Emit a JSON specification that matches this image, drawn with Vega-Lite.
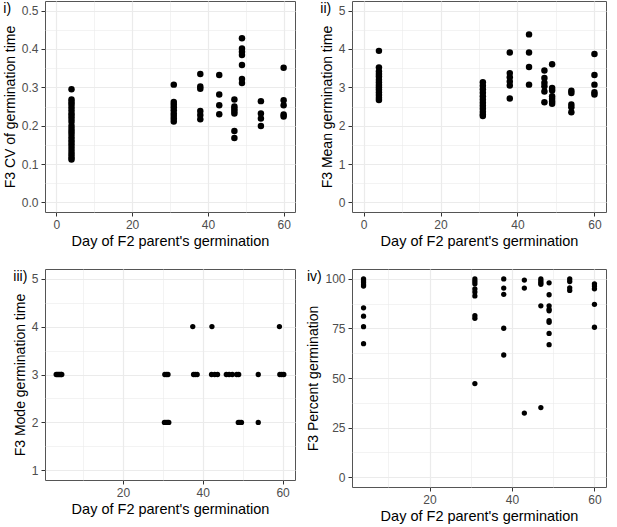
{
  "$schema": "https://vega.github.io/schema/vega-lite/v6.json",
  "padding": {"left": 2, "top": 0, "right": 2, "bottom": 2},
  "datasets": {
    "cv": [
      {"day": 4, "value": 0.295}, {"day": 4, "value": 0.268}, {"day": 4, "value": 0.262}, {"day": 4, "value": 0.256},
      {"day": 4, "value": 0.248}, {"day": 4, "value": 0.24}, {"day": 4, "value": 0.232}, {"day": 4, "value": 0.225},
      {"day": 4, "value": 0.218}, {"day": 4, "value": 0.21}, {"day": 4, "value": 0.2}, {"day": 4, "value": 0.192},
      {"day": 4, "value": 0.185}, {"day": 4, "value": 0.178}, {"day": 4, "value": 0.17}, {"day": 4, "value": 0.162},
      {"day": 4, "value": 0.155}, {"day": 4, "value": 0.148}, {"day": 4, "value": 0.14}, {"day": 4, "value": 0.132},
      {"day": 4, "value": 0.125}, {"day": 4, "value": 0.118}, {"day": 4, "value": 0.112},
      {"day": 31, "value": 0.307}, {"day": 31, "value": 0.262}, {"day": 31, "value": 0.255}, {"day": 31, "value": 0.248},
      {"day": 31, "value": 0.24}, {"day": 31, "value": 0.232}, {"day": 31, "value": 0.225}, {"day": 31, "value": 0.218},
      {"day": 31, "value": 0.211},
      {"day": 38, "value": 0.335}, {"day": 38, "value": 0.302}, {"day": 38, "value": 0.296}, {"day": 38, "value": 0.238},
      {"day": 38, "value": 0.228}, {"day": 38, "value": 0.217},
      {"day": 43, "value": 0.332}, {"day": 43, "value": 0.281}, {"day": 43, "value": 0.253}, {"day": 43, "value": 0.23},
      {"day": 47, "value": 0.268}, {"day": 47, "value": 0.25}, {"day": 47, "value": 0.244}, {"day": 47, "value": 0.238},
      {"day": 47, "value": 0.232}, {"day": 47, "value": 0.186}, {"day": 47, "value": 0.168},
      {"day": 49, "value": 0.428}, {"day": 49, "value": 0.401}, {"day": 49, "value": 0.393}, {"day": 49, "value": 0.384},
      {"day": 49, "value": 0.358}, {"day": 49, "value": 0.322}, {"day": 49, "value": 0.311},
      {"day": 54, "value": 0.264}, {"day": 54, "value": 0.232}, {"day": 54, "value": 0.219}, {"day": 54, "value": 0.199},
      {"day": 60, "value": 0.351}, {"day": 60, "value": 0.266}, {"day": 60, "value": 0.253}, {"day": 60, "value": 0.229},
      {"day": 60, "value": 0.224}
    ],
    "mean": [
      {"day": 4, "value": 3.95}, {"day": 4, "value": 3.52}, {"day": 4, "value": 3.42}, {"day": 4, "value": 3.35},
      {"day": 4, "value": 3.28}, {"day": 4, "value": 3.2}, {"day": 4, "value": 3.13}, {"day": 4, "value": 3.06},
      {"day": 4, "value": 3.0}, {"day": 4, "value": 2.94}, {"day": 4, "value": 2.87}, {"day": 4, "value": 2.8},
      {"day": 4, "value": 2.73}, {"day": 4, "value": 2.67},
      {"day": 31, "value": 3.13}, {"day": 31, "value": 3.04}, {"day": 31, "value": 2.95}, {"day": 31, "value": 2.86},
      {"day": 31, "value": 2.77}, {"day": 31, "value": 2.68}, {"day": 31, "value": 2.6}, {"day": 31, "value": 2.52},
      {"day": 31, "value": 2.44}, {"day": 31, "value": 2.36}, {"day": 31, "value": 2.29}, {"day": 31, "value": 2.25},
      {"day": 38, "value": 3.91}, {"day": 38, "value": 3.37}, {"day": 38, "value": 3.26}, {"day": 38, "value": 3.15},
      {"day": 38, "value": 3.05}, {"day": 38, "value": 2.71},
      {"day": 43, "value": 4.38}, {"day": 43, "value": 3.91}, {"day": 43, "value": 3.53}, {"day": 43, "value": 3.07},
      {"day": 47, "value": 3.44}, {"day": 47, "value": 3.24}, {"day": 47, "value": 3.12}, {"day": 47, "value": 3.03},
      {"day": 47, "value": 2.89}, {"day": 47, "value": 2.61},
      {"day": 49, "value": 3.6}, {"day": 49, "value": 2.98}, {"day": 49, "value": 2.92}, {"day": 49, "value": 2.77},
      {"day": 49, "value": 2.7}, {"day": 49, "value": 2.63}, {"day": 49, "value": 2.57},
      {"day": 54, "value": 2.91}, {"day": 54, "value": 2.85}, {"day": 54, "value": 2.55}, {"day": 54, "value": 2.48},
      {"day": 54, "value": 2.35},
      {"day": 60, "value": 3.87}, {"day": 60, "value": 3.32}, {"day": 60, "value": 3.07}, {"day": 60, "value": 2.87},
      {"day": 60, "value": 2.81}
    ],
    "mode": [
      {"day": 3.3, "value": 3}, {"day": 3.6, "value": 3}, {"day": 3.9, "value": 3}, {"day": 4.2, "value": 3},
      {"day": 4.5, "value": 3}, {"day": 4.7, "value": 3},
      {"day": 30.5, "value": 3}, {"day": 30.9, "value": 3}, {"day": 31.3, "value": 3},
      {"day": 30.4, "value": 2}, {"day": 30.8, "value": 2}, {"day": 31.2, "value": 2}, {"day": 31.5, "value": 2},
      {"day": 37.5, "value": 4},
      {"day": 37.7, "value": 3}, {"day": 38.1, "value": 3}, {"day": 38.6, "value": 3},
      {"day": 42.3, "value": 4},
      {"day": 42.2, "value": 3}, {"day": 43.0, "value": 3}, {"day": 43.7, "value": 3},
      {"day": 45.9, "value": 3}, {"day": 46.6, "value": 3}, {"day": 47.4, "value": 3}, {"day": 48.5, "value": 3},
      {"day": 49.0, "value": 3},
      {"day": 48.9, "value": 2}, {"day": 49.3, "value": 2}, {"day": 49.7, "value": 2},
      {"day": 53.9, "value": 3}, {"day": 53.9, "value": 2},
      {"day": 59.2, "value": 4},
      {"day": 59.3, "value": 3}, {"day": 59.8, "value": 3}, {"day": 60.3, "value": 3}
    ],
    "pct": [
      {"day": 4, "value": 100}, {"day": 4, "value": 99}, {"day": 4, "value": 98}, {"day": 4, "value": 97},
      {"day": 4, "value": 96.4}, {"day": 4, "value": 85.4}, {"day": 4, "value": 81.2}, {"day": 4, "value": 75.9},
      {"day": 4, "value": 67.3},
      {"day": 31, "value": 100}, {"day": 31, "value": 98.7}, {"day": 31, "value": 97.5}, {"day": 31, "value": 95},
      {"day": 31, "value": 93.4}, {"day": 31, "value": 91.4}, {"day": 31, "value": 81.4}, {"day": 31, "value": 80.1},
      {"day": 31, "value": 47.2},
      {"day": 38, "value": 100}, {"day": 38, "value": 95.4}, {"day": 38, "value": 92.2}, {"day": 38, "value": 75.1},
      {"day": 38, "value": 61.6},
      {"day": 43, "value": 99.4}, {"day": 43, "value": 95.4}, {"day": 43, "value": 32.3},
      {"day": 47, "value": 100}, {"day": 47, "value": 99}, {"day": 47, "value": 98}, {"day": 47, "value": 97.3},
      {"day": 47, "value": 86.4}, {"day": 47, "value": 35.1},
      {"day": 49, "value": 98}, {"day": 49, "value": 92}, {"day": 49, "value": 86.4}, {"day": 49, "value": 84.7},
      {"day": 49, "value": 83.9}, {"day": 49, "value": 79}, {"day": 49, "value": 78.1}, {"day": 49, "value": 72.5},
      {"day": 49, "value": 66.8},
      {"day": 54, "value": 100}, {"day": 54, "value": 98.7}, {"day": 54, "value": 95.5}, {"day": 54, "value": 94.2},
      {"day": 60, "value": 97.5}, {"day": 60, "value": 96.4}, {"day": 60, "value": 95}, {"day": 60, "value": 87.2},
      {"day": 60, "value": 75.6}
    ]
  },
  "columns": 2,
  "spacing": {"row": 20, "column": 10},
  "concat": [
    {
      "width": 250, "height": 211,
      "title": {"text": "i)"},
      "data": {"name": "cv"},
      "mark": {"type": "circle", "size": 42, "color": "black", "opacity": 1},
      "encoding": {
        "x": {"field": "day", "type": "quantitative", "title": "Day of F2 parent's germination",
          "scale": {"domain": [-3, 63], "nice": false, "zero": false},
          "axis": {"values": [0, 10, 20, 30, 40, 50, 60],
            "labelExpr": "datum.value % 20 == 0 ? format(datum.value, 'd') : ''",
            "gridWidth": {"condition": {"test": "datum.value % 20 != 0", "value": 0.6}, "value": 1.2},
            "tickOpacity": {"condition": {"test": "datum.value % 20 != 0", "value": 0}, "value": 1}}},
        "y": {"field": "value", "type": "quantitative", "title": "F3 CV of germination time",
          "scale": {"domain": [-0.025, 0.525], "nice": false, "zero": false},
          "axis": {"values": [0, 0.05, 0.1, 0.15, 0.2, 0.25, 0.3, 0.35, 0.4, 0.45, 0.5],
            "labelExpr": "abs(datum.value*10 - round(datum.value*10)) < 0.001 ? format(datum.value, '.1f') : ''",
            "gridWidth": {"condition": {"test": "abs(datum.value*10 - round(datum.value*10)) > 0.001", "value": 0.6}, "value": 1.2},
            "tickOpacity": {"condition": {"test": "abs(datum.value*10 - round(datum.value*10)) > 0.001", "value": 0}, "value": 1}}}
      }
    },
    {
      "width": 254, "height": 211,
      "title": {"text": "ii)"},
      "data": {"name": "mean"},
      "mark": {"type": "circle", "size": 42, "color": "black", "opacity": 1},
      "encoding": {
        "x": {"field": "day", "type": "quantitative", "title": "Day of F2 parent's germination",
          "scale": {"domain": [-3, 63], "nice": false, "zero": false},
          "axis": {"values": [0, 10, 20, 30, 40, 50, 60],
            "labelExpr": "datum.value % 20 == 0 ? format(datum.value, 'd') : ''",
            "gridWidth": {"condition": {"test": "datum.value % 20 != 0", "value": 0.6}, "value": 1.2},
            "tickOpacity": {"condition": {"test": "datum.value % 20 != 0", "value": 0}, "value": 1}}},
        "y": {"field": "value", "type": "quantitative", "title": "F3 Mean germination time",
          "scale": {"domain": [-0.25, 5.25], "nice": false, "zero": false},
          "axis": {"values": [0, 0.5, 1, 1.5, 2, 2.5, 3, 3.5, 4, 4.5, 5],
            "labelExpr": "datum.value % 1 == 0 ? format(datum.value, 'd') : ''",
            "gridWidth": {"condition": {"test": "datum.value % 1 != 0", "value": 0.6}, "value": 1.2},
            "tickOpacity": {"condition": {"test": "datum.value % 1 != 0", "value": 0}, "value": 1}}}
      }
    },
    {
      "width": 250, "height": 211,
      "title": {"text": "iii)"},
      "data": {"name": "mode"},
      "mark": {"type": "circle", "size": 28, "color": "black", "opacity": 1},
      "encoding": {
        "x": {"field": "day", "type": "quantitative", "title": "Day of F2 parent's germination",
          "scale": {"domain": [0.5, 63.1], "nice": false, "zero": false},
          "axis": {"values": [10, 20, 30, 40, 50, 60],
            "labelExpr": "datum.value % 20 == 0 ? format(datum.value, 'd') : ''",
            "gridWidth": {"condition": {"test": "datum.value % 20 != 0", "value": 0.6}, "value": 1.2},
            "tickOpacity": {"condition": {"test": "datum.value % 20 != 0", "value": 0}, "value": 1}}},
        "y": {"field": "value", "type": "quantitative", "title": "F3 Mode germination time",
          "scale": {"domain": [0.8, 5.2], "nice": false, "zero": false},
          "axis": {"values": [1, 1.5, 2, 2.5, 3, 3.5, 4, 4.5, 5],
            "labelExpr": "datum.value % 1 == 0 ? format(datum.value, 'd') : ''",
            "gridWidth": {"condition": {"test": "datum.value % 1 != 0", "value": 0.6}, "value": 1.2},
            "tickOpacity": {"condition": {"test": "datum.value % 1 != 0", "value": 0}, "value": 1}}}
      }
    },
    {
      "width": 254, "height": 218,
      "title": {"text": "iv)"},
      "data": {"name": "pct"},
      "mark": {"type": "circle", "size": 28, "color": "black", "opacity": 1},
      "encoding": {
        "x": {"field": "day", "type": "quantitative", "title": "Day of F2 parent's germination",
          "scale": {"domain": [1.2, 62.8], "nice": false, "zero": false},
          "axis": {"values": [10, 20, 30, 40, 50, 60],
            "labelExpr": "datum.value % 20 == 0 ? format(datum.value, 'd') : ''",
            "gridWidth": {"condition": {"test": "datum.value % 20 != 0", "value": 0.6}, "value": 1.2},
            "tickOpacity": {"condition": {"test": "datum.value % 20 != 0", "value": 0}, "value": 1}}},
        "y": {"field": "value", "type": "quantitative", "title": "F3 Percent germination",
          "scale": {"domain": [-5, 105], "nice": false, "zero": false},
          "axis": {"values": [0, 12.5, 25, 37.5, 50, 62.5, 75, 87.5, 100],
            "labelExpr": "datum.value % 25 == 0 ? format(datum.value, 'd') : ''",
            "gridWidth": {"condition": {"test": "datum.value % 25 != 0", "value": 0.6}, "value": 1.2},
            "tickOpacity": {"condition": {"test": "datum.value % 25 != 0", "value": 0}, "value": 1}}}
      }
    }
  ],
  "config": {
    "font": "Liberation Sans",
    "view": {"stroke": "#555555", "strokeWidth": 1},
    "axis": {
      "domain": false,
      "labelColor": "#4D4D4D", "labelFontSize": 12, "labelPadding": 3,
      "titleFontSize": 14.5, "titleFontWeight": "normal", "titleColor": "#000000", "titlePadding": 4,
      "tickColor": "#333333", "tickSize": 4,
      "gridColor": "#EBEBEB"
    },
    "axisY": {"titleFontSize": 14},
    "title": {"anchor": "start", "frame": "bounds", "fontSize": 14, "fontWeight": "normal", "offset": -15, "color": "#000000"}
  }
}
